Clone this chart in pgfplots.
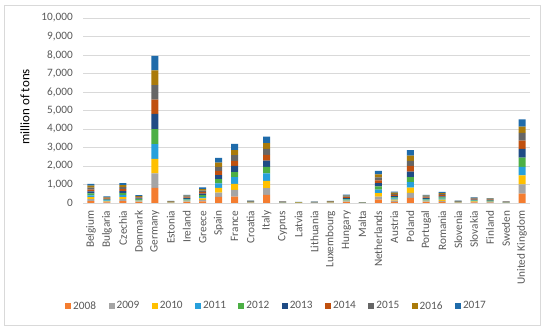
\documentclass[border=0pt]{standalone}
\usepackage{pgfplots}
\pgfplotsset{compat=1.18}
\usepackage{pgfplotstable}
\usepackage{fontspec}
\setmainfont{Carlito}
\definecolor{c08}{HTML}{F47D30}
\definecolor{c09}{HTML}{A5A5A5}
\definecolor{c10}{HTML}{FFC000}
\definecolor{c11}{HTML}{27A0DC}
\definecolor{c12}{HTML}{4CAF45}
\definecolor{c13}{HTML}{1F4B85}
\definecolor{c14}{HTML}{C0500F}
\definecolor{c15}{HTML}{666666}
\definecolor{c16}{HTML}{AA7A0A}
\definecolor{c17}{HTML}{1F6BAA}
\definecolor{txt}{HTML}{595959}
\definecolor{grd}{HTML}{D9D9D9}
\pgfplotstableread{
x a b c d e f g h i j
0 104 104 104 104 104 104 104 104 103 103
1 36 36 36 36 36 36 36 36 36 36
2 108 108 108 108 108 108 108 108 108 108
3 42 42 42 42 42 42 42 42 42 42
4 819 783 783 801 801 837 764 783 801 783
5 11 11 11 11 11 11 11 11 11 11
6 44 44 44 44 44 44 44 44 44 44
7 84 84 84 84 84 84 84 84 84 84
8 328 237 255 237 237 218 218 218 237 255
9 345 364 327 364 273 327 273 309 273 345
10 13 13 13 13 13 13 13 13 13 13
11 437 364 400 400 346 346 310 328 310 346
12 9 9 9 9 9 9 9 9 9 9
13 5.5 5.5 5.5 5.5 5.5 5.5 5.5 5.5 5.5 5.5
14 7 7 7 7 7 7 7 7 7 7
15 11 11 11 11 11 11 11 11 11 11
16 45 45 45 45 45 45 45 45 45 45
17 3.5 3.5 3.5 3.5 3.5 3.5 3.5 3.5 3.5 3.5
18 182 164 182 200 164 182 146 164 164 182
19 62 62 62 62 62 62 62 62 62 62
20 273 273 291 291 273 291 309 273 291 291
21 44 44 44 44 44 44 44 44 44 44
22 60 60 60 60 60 60 60 60 60 60
23 13 13 13 13 13 13 13 13 13 13
24 31 31 31 31 31 31 31 31 31 31
25 27 27 27 27 27 27 27 27 27 27
26 9 9 9 9 9 9 9 9 9 9
27 510 491 491 455 510 473 437 419 346 382
}\data
\begin{document}
\begin{tikzpicture}
\useasboundingbox[fill=white] (0,0) rectangle (550bp,332bp);
\draw[grd, line width=0.75bp] (4bp,7bp) rectangle (540bp,327bp);
\begin{axis}[
  at={(83bp,129bp)}, anchor=south west,
  scale only axis, width=447bp, height=185bp,
  ybar stacked, bar width=7bp,
  every axis plot post/.append style={legend image code/.code={\fill[##1] (0bp,-3bp) rectangle (6bp,3bp);}},
  xmin=-0.5, xmax=27.5, ymin=0, ymax=10000,
  xtick={0,...,27},
  xticklabels={Belgium,Bulgaria,Czechia,Denmark,Germany,Estonia,Ireland,Greece,Spain,France,Croatia,Italy,Cyprus,Latvia,Lithuania,Luxembourg,Hungary,Malta,Netherlands,Austria,Poland,Portugal,Romania,Slovenia,Slovakia,Finland,Sweden,United Kingdom},
  xticklabel style={rotate=90, anchor=east, inner sep=0pt, text=txt, font=\fontsize{11.3}{12}\selectfont},
  xticklabel shift=7.5bp,
  ytick={0,1000,...,10000},
  yticklabel style={anchor=east, inner sep=0pt, text=txt, font=\fontsize{11.3}{12}\selectfont},
  yticklabel shift=10bp,
  /pgf/number format/assume math mode=true,
  /pgf/number format/1000 sep={,},
  scaled y ticks=false,
  major tick length=0pt,
  ymajorgrids, grid style={grd, line width=0.75bp},
  axis x line*=bottom, axis y line*=left,
  y axis line style={draw=none},
  x axis line style={grd, line width=0.75bp},
  ylabel={million of tons},
  ylabel style={at={(axis description cs:-0.1298,0.52)}, anchor=center, font=\fontsize{13}{14}\selectfont, text=black},
  legend columns=10,
  legend style={draw=none, fill=none, at={(0.433,-0.557)}, anchor=center, text=txt,
    font=\fontsize{11.3}{12}\selectfont,
    /tikz/every even column/.append style={column sep=10.5bp}},
]
\addplot[fill=c08, draw=none] table[x=x,y=a] \data; \addlegendentry{2008}
\addplot[fill=c09, draw=none] table[x=x,y=b] \data; \addlegendentry{2009}
\addplot[fill=c10, draw=none] table[x=x,y=c] \data; \addlegendentry{2010}
\addplot[fill=c11, draw=none] table[x=x,y=d] \data; \addlegendentry{2011}
\addplot[fill=c12, draw=none] table[x=x,y=e] \data; \addlegendentry{2012}
\addplot[fill=c13, draw=none] table[x=x,y=f] \data; \addlegendentry{2013}
\addplot[fill=c14, draw=none] table[x=x,y=g] \data; \addlegendentry{2014}
\addplot[fill=c15, draw=none] table[x=x,y=h] \data; \addlegendentry{2015}
\addplot[fill=c16, draw=none] table[x=x,y=i] \data; \addlegendentry{2016}
\addplot[fill=c17, draw=none] table[x=x,y=j] \data; \addlegendentry{2017}
\end{axis}
\end{tikzpicture}
\end{document}
